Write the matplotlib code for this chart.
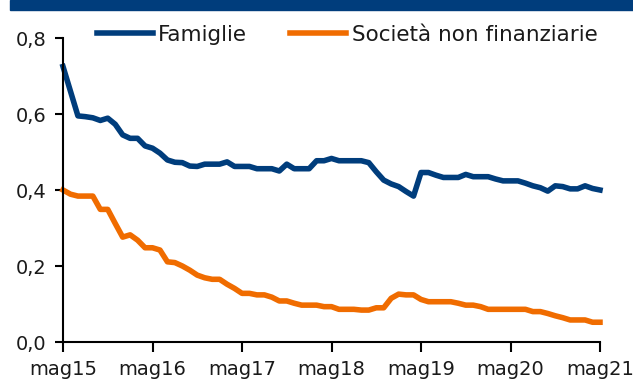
import matplotlib
matplotlib.use("Agg")
import matplotlib.pyplot as plt
from matplotlib.patches import Rectangle
from matplotlib.ticker import FuncFormatter

# Monthly series, May 2015 - May 2021
famiglie = [
    0.725, 0.66, 0.595, 0.593, 0.590, 0.583, 0.589, 0.573, 0.545, 0.536,
    0.536, 0.516, 0.510, 0.497, 0.479, 0.473, 0.472, 0.463, 0.462, 0.468,
    0.468, 0.468, 0.474, 0.462, 0.462, 0.462, 0.456, 0.456, 0.456, 0.450,
    0.468, 0.456, 0.456, 0.456, 0.477, 0.477, 0.483, 0.477, 0.477, 0.477,
    0.477, 0.472, 0.448, 0.426, 0.416, 0.409, 0.396, 0.384, 0.446, 0.446,
    0.439, 0.433, 0.433, 0.433, 0.441, 0.435, 0.435, 0.435, 0.429, 0.424,
    0.424, 0.424, 0.418, 0.411, 0.406, 0.397, 0.411, 0.409, 0.403, 0.403,
    0.411, 0.404, 0.400,
]
societa = [
    0.400, 0.389, 0.384, 0.384, 0.384, 0.349, 0.349, 0.312, 0.276, 0.282,
    0.268, 0.248, 0.248, 0.242, 0.211, 0.209, 0.200, 0.189, 0.176, 0.169,
    0.165, 0.165, 0.152, 0.141, 0.128, 0.128, 0.124, 0.124, 0.118, 0.108,
    0.108, 0.102, 0.097, 0.097, 0.097, 0.093, 0.093, 0.086, 0.086, 0.086,
    0.084, 0.084, 0.090, 0.090, 0.115, 0.126, 0.124, 0.124, 0.112, 0.106,
    0.106, 0.106, 0.106, 0.102, 0.097, 0.097, 0.093, 0.086, 0.086, 0.086,
    0.086, 0.086, 0.086, 0.080, 0.080, 0.075, 0.069, 0.064, 0.058, 0.058,
    0.058, 0.052, 0.052,
]
tick_labels = ["mag15", "mag16", "mag17", "mag18", "mag19", "mag20", "mag21"]
series_names = ["Famiglie", "Società non finanziarie"]

BLUE = "#003d7c"
ORANGE = "#f06c00"
TEXT = "#1a1a1a"

plt.rcParams["font.family"] = ["DejaVu Sans"]

fig = plt.figure(figsize=(6.33, 3.80), dpi=100)
ax = fig.add_axes([63 / 633, 1 - 342 / 380, (600 - 63) / 633, (342 - 38) / 380])

months = list(range(len(famiglie)))
ax.plot(months, famiglie, color=BLUE, lw=4.0, label=series_names[0],
        solid_joinstyle="round", clip_on=False)
ax.plot(months, societa, color=ORANGE, lw=4.0, label=series_names[1],
        solid_joinstyle="round", clip_on=False)

ax.set_xlim(0, 72)
ax.set_ylim(0, 0.8)
ax.set_xticks(range(0, 73, 12))
ax.set_xticklabels(tick_labels)
ax.set_yticks([0, 0.2, 0.4, 0.6, 0.8])
ax.yaxis.set_major_formatter(FuncFormatter(lambda v, _: f"{v:.1f}".replace(".", ",")))

for side in ("top", "right"):
    ax.spines[side].set_visible(False)
for side in ("left", "bottom"):
    ax.spines[side].set_linewidth(1.5)
    ax.spines[side].set_color("black")

ax.tick_params(axis="both", direction="out", width=1.5, color="black",
               labelsize=14, labelcolor=TEXT)
ax.tick_params(axis="x", length=7, pad=6)
ax.tick_params(axis="y", length=6, pad=6)

leg = fig.legend(loc="center left", bbox_to_anchor=(97 / 633, 1 - 35 / 380),
                 ncol=2, frameon=False, fontsize=15.5, handlelength=2.6,
                 handletextpad=0.25, columnspacing=2.0, borderpad=0,
                 borderaxespad=0)
for t in leg.get_texts():
    t.set_color(TEXT)

# Dark band across the top edge
fig.patches.append(Rectangle((10 / 633, 1 - 10 / 380), 1, 10 / 380,
                             transform=fig.transFigure, color=BLUE, zorder=0))

fig.savefig("out.png", dpi=100)
